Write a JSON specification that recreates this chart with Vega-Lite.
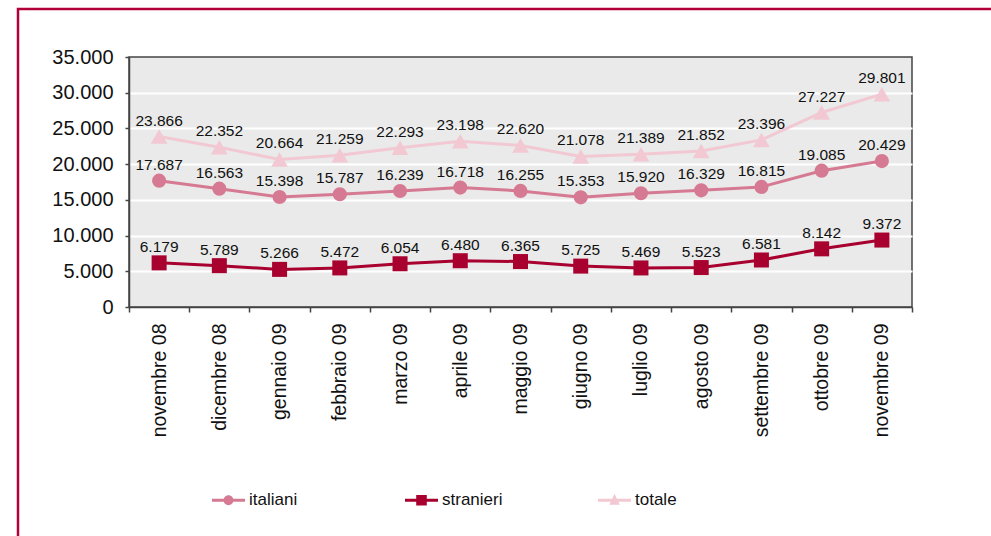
{
  "$schema": "https://vega.github.io/schema/vega-lite/v6.json",
  "width": 783,
  "height": 250,
  "autosize": {"type": "none"},
  "padding": {"left": 129, "top": 57, "right": 79, "bottom": 229},
  "background": "white",
  "data": {"values": [
    {"month": "novembre 08", "series": "italiani", "value": 17687},
    {"month": "dicembre 08", "series": "italiani", "value": 16563},
    {"month": "gennaio 09", "series": "italiani", "value": 15398},
    {"month": "febbraio 09", "series": "italiani", "value": 15787},
    {"month": "marzo 09", "series": "italiani", "value": 16239},
    {"month": "aprile 09", "series": "italiani", "value": 16718},
    {"month": "maggio 09", "series": "italiani", "value": 16255},
    {"month": "giugno 09", "series": "italiani", "value": 15353},
    {"month": "luglio 09", "series": "italiani", "value": 15920},
    {"month": "agosto 09", "series": "italiani", "value": 16329},
    {"month": "settembre 09", "series": "italiani", "value": 16815},
    {"month": "ottobre 09", "series": "italiani", "value": 19085},
    {"month": "novembre 09", "series": "italiani", "value": 20429},
    {"month": "novembre 08", "series": "stranieri", "value": 6179},
    {"month": "dicembre 08", "series": "stranieri", "value": 5789},
    {"month": "gennaio 09", "series": "stranieri", "value": 5266},
    {"month": "febbraio 09", "series": "stranieri", "value": 5472},
    {"month": "marzo 09", "series": "stranieri", "value": 6054},
    {"month": "aprile 09", "series": "stranieri", "value": 6480},
    {"month": "maggio 09", "series": "stranieri", "value": 6365},
    {"month": "giugno 09", "series": "stranieri", "value": 5725},
    {"month": "luglio 09", "series": "stranieri", "value": 5469},
    {"month": "agosto 09", "series": "stranieri", "value": 5523},
    {"month": "settembre 09", "series": "stranieri", "value": 6581},
    {"month": "ottobre 09", "series": "stranieri", "value": 8142},
    {"month": "novembre 09", "series": "stranieri", "value": 9372},
    {"month": "novembre 08", "series": "totale", "value": 23866},
    {"month": "dicembre 08", "series": "totale", "value": 22352},
    {"month": "gennaio 09", "series": "totale", "value": 20664},
    {"month": "febbraio 09", "series": "totale", "value": 21259},
    {"month": "marzo 09", "series": "totale", "value": 22293},
    {"month": "aprile 09", "series": "totale", "value": 23198},
    {"month": "maggio 09", "series": "totale", "value": 22620},
    {"month": "giugno 09", "series": "totale", "value": 21078},
    {"month": "luglio 09", "series": "totale", "value": 21389},
    {"month": "agosto 09", "series": "totale", "value": 21852},
    {"month": "settembre 09", "series": "totale", "value": 23396},
    {"month": "ottobre 09", "series": "totale", "value": 27227},
    {"month": "novembre 09", "series": "totale", "value": 29801}
  ]},
  "encoding": {
    "x": {
      "field": "month", "type": "nominal", "sort": null,
      "scale": {"type": "band", "paddingInner": 0, "paddingOuter": 0},
      "axis": {
        "title": null, "labelAngle": -90, "labelAlign": "right", "labelBaseline": "middle",
        "tickBand": "extent", "tickSize": 5, "tickColor": "#444", "domainColor": "#444",
        "labelPadding": 11, "labelFontSize": 19.5, "labelColor": "#111", "grid": false
      }
    },
    "y": {
      "field": "value", "type": "quantitative",
      "scale": {"domain": [0, 35000], "nice": false},
      "axis": {
        "title": null, "values": [0, 5000, 10000, 15000, 20000, 25000, 30000, 35000],
        "format": ",d", "tickSize": 4, "tickColor": "#444", "domainColor": "#444",
        "labelPadding": 12, "labelFontSize": 20, "labelColor": "#111",
        "grid": true, "gridWidth": 2,
        "gridColor": {"condition": {"test": "datum.value === 35000 || datum.value === 0", "value": "#444"}, "value": "#ffffff"},
        "gridOpacity": {"condition": {"test": "datum.value === 35000 || datum.value === 0", "value": 0}, "value": 1}
      }
    },
    "color": {
      "field": "series", "type": "nominal",
      "scale": {"domain": ["italiani", "stranieri", "totale"], "range": ["#D67A93", "#A8002F", "#F2C9D3"]},
      "legend": {
        "title": null, "orient": "none", "legendX": 83, "legendY": 426.5,
        "direction": "horizontal", "gridAlign": "all", "columnPadding": 95,
        "padding": 0, "symbolSize": 1089, "symbolStrokeWidth": 0, "labelOffset": 4,
        "labelFontSize": 17, "labelColor": "#111", "labelFont": "Liberation Sans",
        "encode": {
          "symbols": {
            "update": {
              "shape": {"signal": "datum.value === 'italiani' ? 'M-1,-0.09L1,-0.09L1,0.09L-1,0.09ZM-0.3,0A0.3,0.3,0,1,1,0.3,0A0.3,0.3,0,1,1,-0.3,0Z' : datum.value === 'stranieri' ? 'M-1,-0.09L1,-0.09L1,0.09L-1,0.09ZM-0.32,-0.32L0.32,-0.32L0.32,0.32L-0.32,0.32Z' : 'M-1,-0.09L1,-0.09L1,0.09L-1,0.09ZM0,-0.4L0.32,0.27L-0.32,0.27Z'"},
              "fill": {"scale": "color", "field": "value"},
              "fillOpacity": {"value": 1},
              "opacity": {"value": 1},
              "strokeWidth": {"value": 0},
              "size": {"value": 1089}
            }
          }
        }
      }
    }
  },
  "layer": [
    {
      "mark": {"type": "line", "strokeWidth": 3}
    },
    {
      "transform": [{"filter": "datum.series === 'italiani'"}],
      "mark": {"type": "point", "filled": true, "opacity": 1, "strokeWidth": 0, "shape": "circle", "size": 200}
    },
    {
      "transform": [{"filter": "datum.series === 'stranieri'"}],
      "mark": {"type": "point", "filled": true, "opacity": 1, "strokeWidth": 0, "shape": "square", "size": 225}
    },
    {
      "transform": [{"filter": "datum.series === 'totale'"}],
      "mark": {"type": "point", "filled": true, "opacity": 1, "strokeWidth": 0, "shape": "triangle-up", "size": 280}
    },
    {
      "mark": {"type": "text", "dy": -16, "fontSize": 15.5, "color": "#111", "baseline": "middle"},
      "encoding": {
        "text": {"field": "value", "type": "quantitative", "format": ",d"},
        "color": {"value": "#111"}
      }
    },
    {
      "mark": {"type": "point", "opacity": 0},
      "encoding": {
        "color": {"value": "transparent"},
        "strokeDash": {
          "field": "series", "type": "nominal",
          "legend": {
            "title": null, "orient": "none", "legendX": -111, "legendY": -48,
            "padding": 600, "strokeColor": "#B2003A", "fillColor": null,
            "symbolOpacity": 0, "labelOpacity": 0, "labelExpr": "''"
          }
        }
      }
    }
  ],
  "config": {
    "locale": {"number": {"decimal": ",", "thousands": ".", "grouping": [3], "currency": ["€", ""]}},
    "font": "Liberation Sans",
    "view": {"fill": "#E9EAE9", "stroke": "#444", "strokeWidth": 1.5},
    "axis": {"labelFont": "Liberation Sans", "domainWidth": 1.5, "tickWidth": 1.5},
    "legend": {"strokeWidth": 2.5}
  }
}
